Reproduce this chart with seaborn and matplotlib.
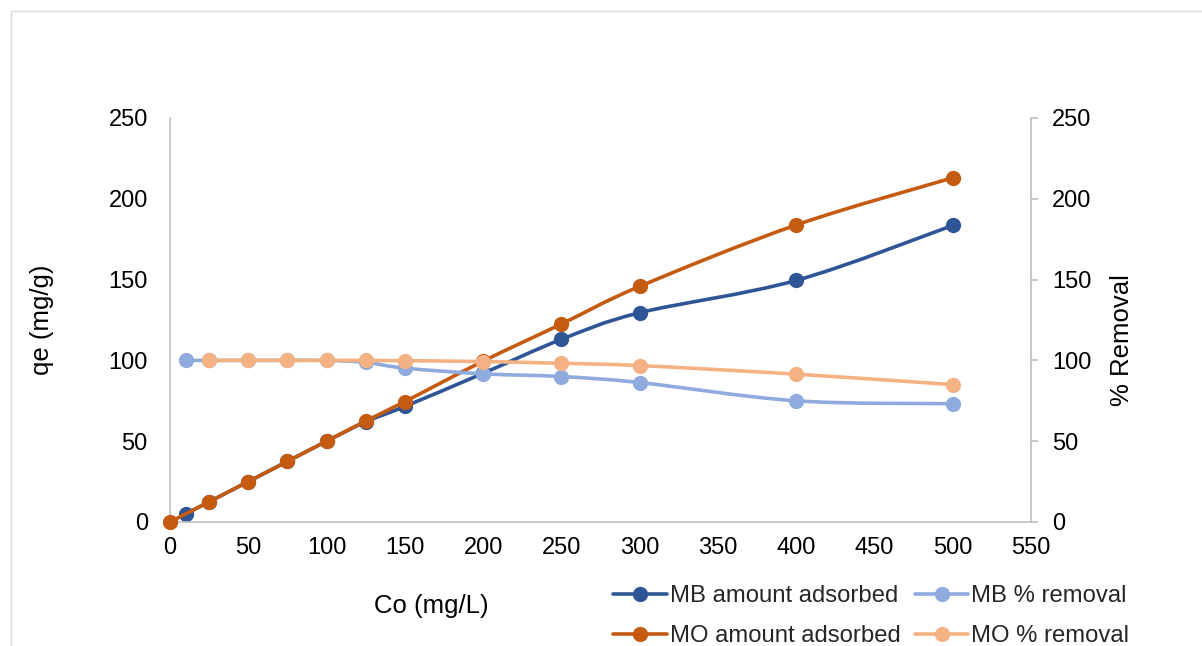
import numpy as np
import matplotlib
matplotlib.use("Agg")
import matplotlib.pyplot as plt
from matplotlib.path import Path
from matplotlib.patches import PathPatch, Rectangle
from matplotlib.lines import Line2D
import seaborn as sns

# Initial concentration (mg/L) and adsorption results
mb_conc = [10, 25, 50, 75, 100, 125, 150, 200, 250, 300, 400, 500]
mb_qe = [5, 12.5, 25, 37.5, 50, 62, 71.5, 92, 113, 129.5, 149.5, 183.5]
mb_removal = [100, 100, 100, 100, 100, 98.8, 95.2, 91.7, 90, 86.3, 75, 73.2]

mo_conc = [0, 25, 50, 75, 100, 125, 150, 200, 250, 300, 400, 500]
mo_qe = [0, 12.5, 25, 37.5, 50, 62.5, 74.5, 99.5, 122.5, 145.8, 183.8, 213]
mo_removal = [np.nan, 100, 100, 100, 100, 100, 99.8, 99.3, 98.2, 96.8, 91.5, 85]

x_ticks = [0, 50, 100, 150, 200, 250, 300, 350, 400, 450, 500, 550]
y_ticks = [0, 50, 100, 150, 200, 250]

labels = ["MB amount adsorbed", "MB % removal", "MO amount adsorbed", "MO % removal"]
colors = ["#2F5597", "#8FAADC", "#C55A11", "#F4B183"]

sns.set_theme(style="white")
plt.rcParams["font.family"] = ["Liberation Sans", "DejaVu Sans"]

LW = 2.6
MS = 11


def smooth_line(ax, xs, ys, color, z):
    """Draw a smoothed (Catmull-Rom Bezier) curve through the points."""
    pts = np.array([(a, b) for a, b in zip(xs, ys) if not np.isnan(b)], float)
    n = len(pts)
    verts = [pts[0]]
    codes = [Path.MOVETO]
    for i in range(n - 1):
        p0 = pts[i - 1] if i > 0 else pts[i]
        p1 = pts[i]
        p2 = pts[i + 1]
        p3 = pts[i + 2] if i + 2 < n else pts[i + 1]
        c1 = p1 + (p2 - p0) / 6.0
        c2 = p2 - (p3 - p1) / 6.0
        verts += [c1, c2, p2]
        codes += [Path.CURVE4] * 3
    patch = PathPatch(Path(verts, codes), facecolor="none", edgecolor=color,
                      lw=LW, zorder=z, capstyle="round", joinstyle="round",
                      clip_on=False)
    ax.add_patch(patch)


def series(ax, xs, ys, color, z):
    smooth_line(ax, xs, ys, color, z)
    sns.scatterplot(x=xs, y=ys, ax=ax, color=color, s=MS ** 2,
                    linewidth=0, zorder=z + 0.5, legend=False, clip_on=False)


fig = plt.figure(figsize=(12.02, 6.46), dpi=100)
ax = fig.add_axes([170 / 1202, 1 - 522 / 646, (1031 - 170) / 1202, (522 - 118) / 646])
ax2 = ax.twinx()

series(ax, mb_conc, mb_qe, colors[0], 2)
series(ax, mo_conc, mo_qe, colors[2], 4)
series(ax2, mb_conc, mb_removal, colors[1], 2)
series(ax2, mo_conc, mo_removal, colors[3], 4)

spine_c = "#BFBFBF"
for a in (ax, ax2):
    a.set_xlim(0, 550)
    a.set_ylim(0, 250)
    a.set_yticks(y_ticks)
    a.grid(False)
    for s in a.spines.values():
        s.set_visible(False)
    a.patch.set_alpha(0)

ax.set_xticks(x_ticks)
ax.spines["left"].set_visible(True)
ax.spines["bottom"].set_visible(True)
ax.spines["left"].set_color(spine_c)
ax.spines["bottom"].set_color(spine_c)
ax.spines["left"].set_linewidth(1.2)
ax.spines["bottom"].set_linewidth(1.2)
ax2.spines["right"].set_visible(True)
ax2.spines["right"].set_color(spine_c)
ax2.spines["right"].set_linewidth(1.2)

ax.tick_params(axis="y", length=0, pad=16, labelsize=17, labelcolor="black")
ax.tick_params(axis="x", length=0, pad=11, labelsize=17, labelcolor="black")
ax2.tick_params(axis="y", right=True, length=5, width=1.2, color=spine_c,
                direction="out", pad=10, labelsize=17, labelcolor="black")

ax.set_xlabel("Co (mg/L)", fontsize=18.5, color="black")
ax.set_ylabel("qe (mg/g)", fontsize=18.5, color="black")
ax2.set_ylabel("% Removal", fontsize=18.5, color="black")
ax.xaxis.label.set_va("center")
ax.yaxis.label.set_va("center")
ax2.yaxis.label.set_va("center")
ax.xaxis.set_label_coords(0.304, -0.208)
ax.yaxis.set_label_coords(-0.1487, 0.5)
ax2.yaxis.set_label_coords(1.1057, 0.45)

handles = [Line2D([], [], color=c, lw=LW, marker="o", markersize=MS,
                  markeredgewidth=0) for c in colors]
order = [0, 2, 1, 3]
fig.legend([handles[i] for i in order], [labels[i] for i in order],
           ncol=2, loc="upper left", bbox_to_anchor=(613 / 1202, 1 - 585 / 646),
           frameon=False, fontsize=17.2, handlelength=2.25, handletextpad=0.12,
           columnspacing=0.6, labelspacing=0.76, borderaxespad=0, borderpad=0)

# Chart frame
fig.patches.append(Rectangle((11 / 1202, -0.05), 1.1, 1 - 11 / 646 + 0.05,
                             transform=fig.transFigure, fill=False,
                             edgecolor="#D9D9D9", lw=1, zorder=0))

fig.savefig("out.png", dpi=100)
